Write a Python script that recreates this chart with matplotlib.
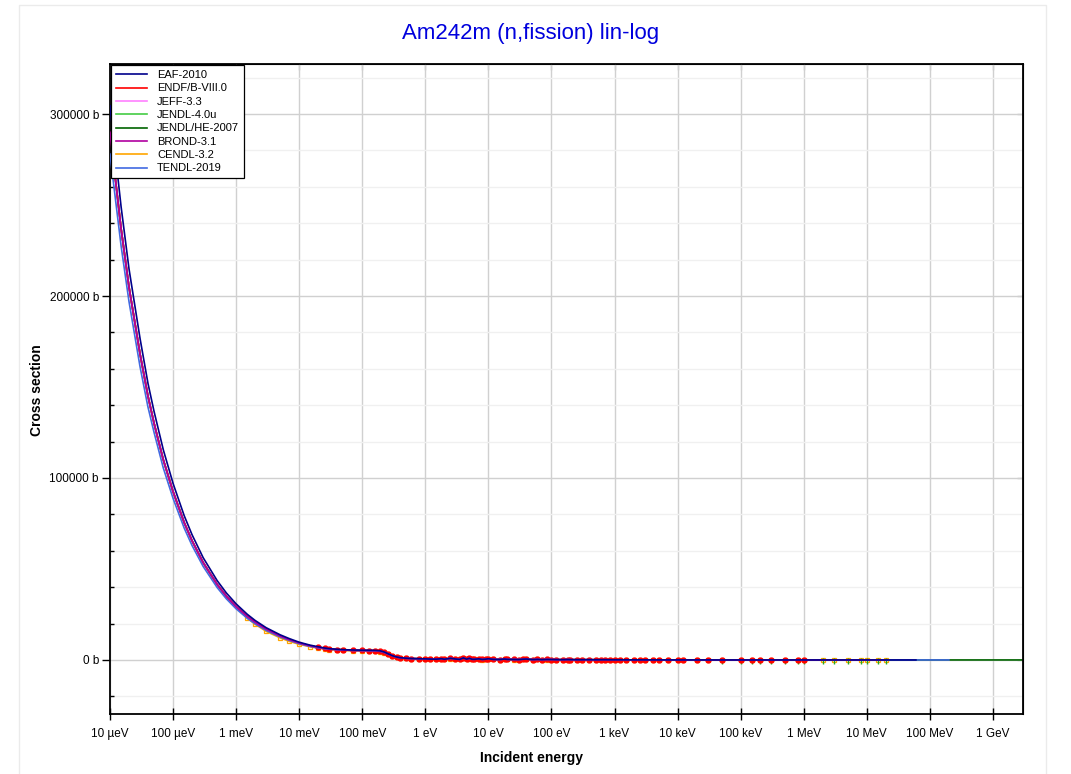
import matplotlib
matplotlib.use("Agg")
import matplotlib.pyplot as plt
import numpy as np
from matplotlib.patches import Rectangle
from matplotlib.ticker import FixedLocator, NullLocator, MultipleLocator

plt.rcParams['font.family'] = ['Liberation Sans', 'DejaVu Sans']

# ---- data (energies in eV, cross sections in barn) ----
e_th = [1e-5, 1.5e-5, 2e-5, 3e-5, 4e-5, 5e-5, 7e-5, 1e-4, 1.5e-4, 2e-4, 3e-4, 5e-4, 7e-4,
        1e-3, 1.5e-3, 2e-3, 3e-3, 5e-3, 7e-3, 1e-2, 1.5e-2, 2e-2, 2.53e-2, 3e-2, 4e-2,
        5e-2, 7e-2, 0.1, 0.13, 0.16, 0.19, 0.22, 0.26, 0.3, 0.35, 0.4, 0.5, 0.6, 0.8]
endf_th = [290000, 237000, 205000, 168000, 145000, 130000, 110000, 92500, 75500, 65500,
           53500, 41500, 35000, 29300, 23900, 20700, 16900, 13100, 11100, 9300, 7700,
           6900, 6400, 6050, 5700, 5500, 5300, 5200, 5150, 5100, 4900, 4300, 3200, 2300,
           1600, 1200, 900, 750, 650]
eaf_th = [304500, 249000, 215000, 176500, 152000, 136500, 115500, 97000, 79300, 68800,
          56200, 43600, 36800, 30800, 25100, 21700, 17700, 13800, 11700, 9750, 8100,
          7250, 6550, 6200, 5850, 5650, 5450, 5350, 5300, 5250, 5050, 4450, 3300, 2350,
          1650, 1250, 950, 780, 670]
tendl_th = [278000, 227500, 197000, 161000, 139000, 125000, 105500, 88800, 72500, 62900,
            51400, 39800, 33600, 28100, 22900, 19900, 16200, 12600, 10700, 8930, 7400,
            6650, 6200, 5900, 5600, 5400, 5200, 5100, 5050, 5000, 4800, 4200, 3150, 2250,
            1550, 1150, 880, 730, 640]
cendl_th = [290000, 237000, 205000, 168000, 145000, 130000, 110000, 92500, 75500, 65500,
            53500, 41500, 35000, 29300, 23000, 19600, 15700, 12100, 10200, 8600, 7200,
            6500, 6000, 5700, 5400, 5200, 5000, 4900, 4850, 4800, 4600, 4000, 3000, 2150,
            1500, 1100, 850, 700, 600]

e_res = [1, 1.2, 1.5, 1.8, 2, 2.5, 3, 3.5, 4, 4.5, 5, 5.5, 6, 7, 8, 9, 10, 12, 15, 18,
         20, 25, 30, 35, 40, 50, 60, 70, 85, 100, 120, 150, 180, 200, 250, 300, 400, 500,
         600, 700, 850, 1e3, 1.2e3, 1.5e3, 2e3, 2.5e3, 3e3, 4e3, 5e3, 7e3, 1e4, 1.2e4,
         2e4, 3e4]
endf_res = [600, 480, 420, 700, 380, 900, 520, 300, 1100, 450, 900, 380, 350, 600, 280,
            420, 650, 300, 240, 500, 310, 260, 200, 400, 480, 180, 300, 150, 260, 230,
            170, 130, 210, 160, 120, 110, 140, 95, 110, 120, 90, 80, 85, 70, 60, 55, 45,
            40, 35, 30, 25, 22, 18, 15]
cendl_res = [520, 410, 360, 600, 330, 760, 450, 260, 920, 390, 770, 330, 300, 520, 240,
             360, 550, 260, 210, 430, 270, 220, 170, 340, 410, 160, 260, 130, 220, 200,
             150, 110, 180, 140, 100, 95, 120, 80, 95, 100, 78, 70, 72, 60, 52, 47, 39,
             34, 30, 26, 21, 19, 16, 13]

e_fast = [5e4, 1e5, 1.5e5, 2e5, 3e5, 5e5, 8e5, 1e6, 2e6, 3e6, 5e6, 8e6, 1e7, 1.5e7, 2e7]
endf_fast = [4.0, 3.5, 3.3, 3.2, 3.0, 2.9, 2.8, 2.9, 3.1, 3.0, 2.6, 2.3, 2.4, 2.6, 2.5]
jendl_fast = [3.8, 3.4, 3.2, 3.1, 2.9, 2.8, 2.7, 2.8, 3.0, 2.9, 2.5, 2.2, 2.3, 2.5, 2.4]
cendl_fast = [4.1, 3.6, 3.4, 3.3, 3.1, 3.0, 2.9, 3.0, 3.2, 3.1, 2.7, 2.4, 2.5, 2.7, 2.6]

e_tail_eaf = [3e7, 6e7]
eaf_tail = [2.3, 2.2]
e_tail_tendl = [3e7, 5e7, 1e8, 2e8]
tendl_tail = [2.3, 2.2, 2.0, 1.9]
e_tail_he = [3e7, 5e7, 1e8, 2e8, 5e8, 1e9, 3e9]
he_tail = [2.3, 2.2, 2.0, 1.9, 1.8, 1.7, 1.6]

libs = ["EAF-2010", "ENDF/B-VIII.0", "JEFF-3.3", "JENDL-4.0u", "JENDL/HE-2007",
        "BROND-3.1", "CENDL-3.2", "TENDL-2019"]
colors = ["#00008b", "#ff0000", "#ff80ff", "#44cc44", "#006400", "#b000a0",
          "#ffa500", "#4169e1"]
zorders = [2.8, 2.5, 2.2, 2.3, 2.05, 2.7, 2.1, 2.6]

e_base = e_th + e_res + e_fast
series = {
    "EAF-2010": (e_base + e_tail_eaf, eaf_th + endf_res + endf_fast + eaf_tail),
    "ENDF/B-VIII.0": (e_base, endf_th + endf_res + endf_fast),
    "JEFF-3.3": (e_base, endf_th + endf_res + endf_fast),
    "JENDL-4.0u": (e_base, endf_th + endf_res + jendl_fast),
    "JENDL/HE-2007": (e_base + e_tail_he, endf_th + endf_res + jendl_fast + he_tail),
    "BROND-3.1": (e_base, endf_th + endf_res + endf_fast),
    "CENDL-3.2": (e_base, cendl_th + cendl_res + cendl_fast),
    "TENDL-2019": (e_base + e_tail_tendl, tendl_th + endf_res + endf_fast + tendl_tail),
}

fig = plt.figure(figsize=(10.71, 7.74), dpi=100)
fig.patches.append(Rectangle((19 / 1071, -0.01), 1027 / 1071, 1.01 - 5 / 774,
                             transform=fig.transFigure, fill=False,
                             edgecolor="#ebebeb", lw=1))
ax = fig.add_axes([110 / 1071, 1 - 714 / 774, 913 / 1071, 650 / 774])

for name, col, z in zip(libs, colors, zorders):
    e, xs = series[name]
    e = np.array(e)
    xs = np.array(xs)
    ax.plot(e, xs, color=col, lw=1.2, label=name, zorder=z)
    if name == "ENDF/B-VIII.0":
        m = (e >= 0.02) & (e <= 1e6)
        ax.plot(e[m], xs[m], 'o', color=col, ms=3.5, zorder=z)
    elif name == "CENDL-3.2":
        m = e >= 1.5e-3
        ax.plot(e[m], xs[m], 's', color=col, mfc='none', ms=3.5, mew=0.9, zorder=z)
    elif name == "JENDL-4.0u":
        m = e >= 5e4
        ax.plot(e[m], xs[m] - 800, '|', color="#22aa22", ms=4, zorder=z)

ax.set_xscale('log')
ax.set_xlim(1e-5, 10 ** 9.476)
ax.set_ylim(-29700, 327500)

xt = [10.0 ** k for k in range(-5, 10)]
xl = ["10 µeV", "100 µeV", "1 meV", "10 meV", "100 meV", "1 eV", "10 eV", "100 eV",
      "1 keV", "10 keV", "100 keV", "1 MeV", "10 MeV", "100 MeV", "1 GeV"]
ax.xaxis.set_major_locator(FixedLocator(xt))
ax.set_xticklabels(xl)
ax.xaxis.set_minor_locator(NullLocator())

yt = [0, 100000, 200000, 300000]
ax.yaxis.set_major_locator(FixedLocator(yt))
ax.set_yticklabels(["0 b", "100000 b", "200000 b", "300000 b"])
ax.yaxis.set_minor_locator(MultipleLocator(20000))

ax.grid(True, which='major', color='#d0d0d0', lw=1)
ax.grid(True, which='minor', axis='y', color='#f0f0f0', lw=1)
ax.set_axisbelow(True)

ax.tick_params(axis='x', which='major', direction='inout', length=8, width=1,
               labelsize=8.5, pad=6, top=False)
ax.tick_params(axis='y', which='major', direction='out', length=6, width=1,
               labelsize=8.5, pad=2)
ax.tick_params(axis='y', which='minor', direction='in', length=3, width=1)
for sp in ax.spines.values():
    sp.set_linewidth(1.3)

# mirrored ticks (inward) on right/top
ax2 = ax.secondary_yaxis('right')
ax2.yaxis.set_major_locator(FixedLocator(yt))
ax2.yaxis.set_minor_locator(MultipleLocator(20000))
ax2.tick_params(which='both', direction='in', length=4, labelright=False)
ax3 = ax.secondary_xaxis('top')
ax3.xaxis.set_major_locator(FixedLocator(xt))
ax3.xaxis.set_minor_locator(NullLocator())
ax3.tick_params(which='both', direction='in', length=4, labeltop=False)

leg = ax.legend(loc='upper left', bbox_to_anchor=(0, 1), borderaxespad=0.1,
                fontsize=8, fancybox=False, framealpha=1, edgecolor='black',
                handlelength=2.8, handletextpad=0.9, labelspacing=0.3, borderpad=0.45)
leg.get_frame().set_linewidth(0.9)

fig.text(531 / 1071, 1 - 34 / 774, "Am242m (n,fission) lin-log", color="#0000dd",
         fontsize=16, ha='center', va='center')
fig.text(532 / 1071, 1 - 758 / 774, "Incident energy", fontsize=10,
         fontweight='bold', ha='center', va='center')
fig.text(37 / 1071, 1 - 390 / 774, "Cross section", fontsize=10, fontweight='bold',
         ha='center', va='center', rotation=90)

fig.savefig("out.png", dpi=100)
